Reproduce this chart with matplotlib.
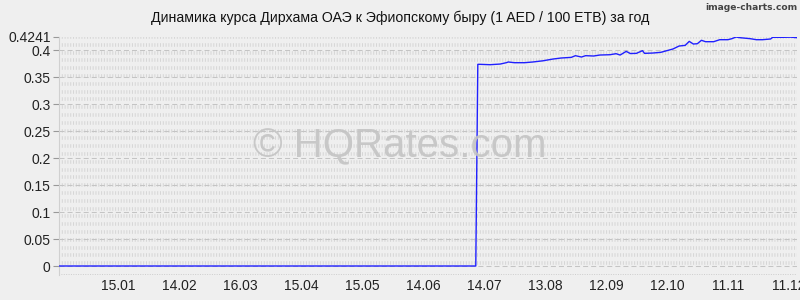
import matplotlib
matplotlib.use("Agg")
import matplotlib.pyplot as plt
import matplotlib.dates as mdates
import numpy as np
from datetime import datetime

plt.rcParams['font.family'] = ['Liberation Sans', 'DejaVu Sans']
plt.rcParams['lines.scale_dashes'] = False

title = "Динамика курса Дирхама ОАЭ к Эфиопскому быру (1 AED / 100 ETB) за год"
watermark = "© HQRates.com"
credit = "image-charts.com"

dates = ["2022-12-17", "2023-07-10", "2023-07-11", "2023-07-12", "2023-07-17",
         "2023-07-22", "2023-07-25", "2023-07-26", "2023-07-29", "2023-08-03",
         "2023-08-07", "2023-08-12", "2023-08-17", "2023-08-21", "2023-08-26",
         "2023-08-28", "2023-08-31", "2023-09-02", "2023-09-06", "2023-09-09",
         "2023-09-14", "2023-09-17", "2023-09-19", "2023-09-22", "2023-09-24",
         "2023-09-27", "2023-09-30", "2023-10-01", "2023-10-05", "2023-10-09",
         "2023-10-12", "2023-10-15", "2023-10-18", "2023-10-21", "2023-10-23",
         "2023-10-25", "2023-10-27", "2023-10-29", "2023-10-31", "2023-11-04",
         "2023-11-07", "2023-11-11", "2023-11-13", "2023-11-15", "2023-11-17",
         "2023-11-22", "2023-11-25", "2023-11-28", "2023-12-02", "2023-12-03",
         "2023-12-08", "2023-12-12", "2023-12-15"]
rates = [0, 0, 0.3735, 0.3735, 0.3728,
         0.374, 0.3765, 0.3778, 0.3765, 0.3765,
         0.3778, 0.380, 0.3833, 0.3852, 0.3864,
         0.3895, 0.387, 0.3895, 0.3889, 0.3907,
         0.3913, 0.3932, 0.3907, 0.3975, 0.3935,
         0.3938, 0.3988, 0.3938, 0.3944, 0.3957,
         0.3988, 0.4019, 0.4074, 0.4086, 0.416,
         0.4111, 0.4117, 0.418, 0.4154, 0.4154,
         0.4191, 0.4191, 0.421, 0.4241, 0.4228,
         0.421, 0.4191, 0.4191, 0.4204, 0.4235,
         0.4235, 0.4238, 0.4228]

ytick_values = [0, 0.05, 0.1, 0.15, 0.2, 0.25, 0.3, 0.35, 0.4, 0.4241]
ytick_labels = ["0", "0.05", "0.1", "0.15", "0.2", "0.25", "0.3", "0.35", "0.4", "0.4241"]
xtick_dates = ["2023-01-15", "2023-02-14", "2023-03-16", "2023-04-15", "2023-05-15",
               "2023-06-14", "2023-07-14", "2023-08-13", "2023-09-12", "2023-10-12",
               "2023-11-11", "2023-12-11"]

bg = '#efefef'
x = [datetime.strptime(d, "%Y-%m-%d") for d in dates]
xt = [datetime.strptime(d, "%Y-%m-%d") for d in xtick_dates]
ymax = max(ytick_values)

fig = plt.figure(figsize=(8, 3), dpi=100, facecolor=bg)
ax = fig.add_axes([59/800, 1 - 275/300, (797 - 59)/800, (275 - 37)/300])
ax.set_facecolor(bg)

ax.set_xlim(x[0], x[-1])
ax.set_ylim(-ymax * 9 / 229, ymax)

# background texture rows
rows = np.arange(ymax, -0.001, -ymax * 7.8 / 229)
for r in rows:
    ax.axhline(r, color='#d6d6d6', lw=2.6, linestyle=(0, (0.72, 1.3)), zorder=1)
# major dashed gridlines
for v in ytick_values[:-1]:
    ax.axhline(v, color='#c4c4c4', lw=0.75, linestyle=(0, (3.6, 2.2)), zorder=1.5)
# bottom dotted line
ax.axhline(ax.get_ylim()[0], color='#c8c8c8', lw=1.2, linestyle=(0, (0.72, 1.0)), zorder=1.5)

fig.text(0.5, 1 - 146/300, watermark, ha='center', va='center', fontsize=29,
         color='#c4c4c4', alpha=0.9, zorder=2)

ax.plot(x, rates, color='#2020ff', lw=1.0, zorder=3)

for s in ['top', 'right', 'bottom']:
    ax.spines[s].set_visible(False)
ax.spines['left'].set_color('#d0d0d0')
ax.spines['left'].set_linewidth(0.8)

ax.set_yticks(ytick_values)
ax.set_yticklabels(ytick_labels)
ax.set_xticks(xt)
ax.xaxis.set_major_formatter(mdates.DateFormatter('%d.%m'))
ax.tick_params(axis='y', length=4, width=0.8, color='#999999', pad=2, labelsize=10, labelcolor='#222222')
ax.tick_params(axis='x', length=0, pad=3, labelsize=10, labelcolor='#222222')

fig.text(0.5, 1 - 18/300, title, ha='center', va='center', fontsize=10.2, color='#111111')
fig.text(0.997, 1 - 7/300, credit, ha='right', va='center', fontsize=6.6,
         color='#444444', fontweight='bold', family='DejaVu Sans')

fig.savefig('out.png', dpi=100, facecolor=bg)
